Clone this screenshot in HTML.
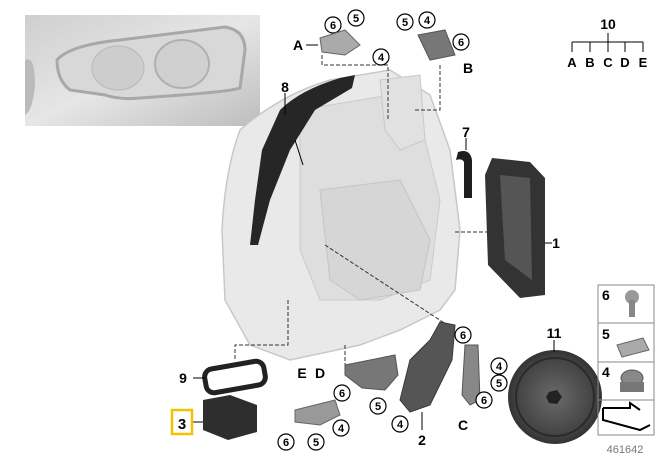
<!DOCTYPE html>
<html><head><meta charset="utf-8"><style>
html,body{margin:0;padding:0;background:#fff;}
svg{display:block;font-family:"Liberation Sans",Arial,sans-serif;font-weight:bold;}
</style></head><body>
<svg width="657" height="459" viewBox="0 0 657 459" xmlns="http://www.w3.org/2000/svg">
<defs>
<linearGradient id="ph" x1="0" y1="0" x2="1" y2="1">
<stop offset="0" stop-color="#cfcfcf"/><stop offset="0.5" stop-color="#e6e6e6"/><stop offset="1" stop-color="#bdbdbd"/></linearGradient>
<radialGradient id="wh" cx="0.5" cy="0.5" r="0.5"><stop offset="0" stop-color="#6a6a6a"/><stop offset="0.8" stop-color="#444"/><stop offset="1" stop-color="#333"/></radialGradient>
</defs>
<rect x="25" y="15" width="235" height="111" fill="url(#ph)"/>
<path d="M57 60 Q70 45 120 40 L225 27 Q245 30 245 50 L240 88 Q230 92 140 98 Q120 100 105 95 L70 90 Q57 80 57 60Z" fill="#d8d8d8" stroke="#a8a8a8" stroke-width="3"/>
<ellipse cx="118" cy="68" rx="26" ry="22" fill="#cdcdcd" stroke="#b9b9b9"/>
<ellipse cx="182" cy="64" rx="27" ry="24" fill="#d0d0d0" stroke="#b0b0b0" stroke-width="2"/>
<path d="M25 60 Q35 55 35 85 Q33 110 25 115Z" fill="#bbb"/>
<path d="M240 130 Q280 95 330 80 L390 70 L430 95 L450 150 L460 230 L455 290 L440 310 L400 330 L360 345 L290 360 L250 345 L225 300 L222 230 Q225 170 240 130Z" fill="#e9e9e9" stroke="#c8c8c8" stroke-width="1.5"/>
<path d="M300 110 L390 95 L420 120 L440 200 L430 280 L380 300 L320 300 L300 250Z" fill="#dedede" stroke="#cacaca"/>
<path d="M320 190 L400 180 L430 240 L420 290 L360 300 L330 280Z" fill="#d6d6d6" stroke="#c4c4c4"/>
<path d="M380 80 L420 75 L425 140 L400 150 L385 130Z" fill="#e1e1e1" stroke="#c8c8c8"/>
<path d="M340 78 L355 75 L352 88 L315 110 L290 150 L270 200 L258 245 L250 245 L255 200 L262 150 L280 110 Q300 90 340 78Z" fill="#262626"/>
<line x1="285" y1="93" x2="285" y2="115" stroke="#000"/>
<line x1="295" y1="140" x2="303" y2="165" stroke="#000"/>
<g stroke="#333" stroke-width="1" stroke-dasharray="4,2" fill="none">
<path d="M322 55 L322 65 L388 65 L388 120"/>
<path d="M440 65 L440 110 L415 110"/>
<path d="M325 245 L455 330"/>
<path d="M455 232 L490 232"/>
<path d="M288 300 L288 345 L235 345 L235 360"/>
<path d="M345 345 L345 375"/>
<path d="M470 345 L470 355"/>
</g>
<path d="M458 152 Q470 148 472 160 L472 198 L464 198 L464 162 Q462 158 456 160Z" fill="#1e1e1e"/>
<line x1="466" y1="138" x2="466" y2="150" stroke="#000"/>
<path d="M492 158 L530 162 L545 178 L545 295 L520 298 L488 265 L485 175Z" fill="#333"/>
<path d="M500 175 L530 178 L532 280 L505 260Z" fill="#555"/>
<line x1="545" y1="243" x2="552" y2="243" stroke="#000"/>
<circle cx="555" cy="397" r="47" fill="url(#wh)"/>
<circle cx="555" cy="397" r="39" fill="none" stroke="#2a2a2a" stroke-width="2"/>
<polygon points="549,392 557,390 562,397 557,404 549,403 546,397" fill="#222"/>
<line x1="554" y1="340" x2="554" y2="352" stroke="#000"/>
<path d="M440 322 L455 325 L452 360 L430 405 L410 412 L400 400 L410 360 L430 340Z" fill="#555" stroke="#3a3a3a"/>
<line x1="422" y1="412" x2="422" y2="430" stroke="#000"/>
<path d="M465 345 L478 345 L480 400 L470 405 L462 395Z" fill="#888" stroke="#555"/>
<path d="M345 365 L395 355 L398 375 L385 390 L362 388 L345 375Z" fill="#777" stroke="#555"/>
<path d="M295 410 L335 400 L340 415 L320 425 L295 422Z" fill="#999" stroke="#666"/>
<rect x="205" y="365" width="60" height="24" rx="8" transform="rotate(-10 235 377)" fill="none" stroke="#222" stroke-width="5"/>
<line x1="193" y1="378" x2="205" y2="378" stroke="#000"/>
<path d="M203 400 L230 395 L257 405 L257 432 L228 440 L203 430Z" fill="#2e2e2e"/>
<line x1="193" y1="422" x2="203" y2="422" stroke="#000"/>
<rect x="172" y="410" width="20" height="24" fill="#fff" stroke="#f2c200" stroke-width="2.5"/>
<text x="182" y="429" font-size="15" text-anchor="middle">3</text>
<g font-size="14" text-anchor="middle" fill="#000">
<text x="285" y="92">8</text><text x="466" y="137">7</text><text x="556" y="248">1</text>
<text x="554" y="338">11</text><text x="422" y="445">2</text><text x="183" y="383">9</text>
<text x="298" y="50">A</text><text x="468" y="73">B</text><text x="463" y="430">C</text>
<text x="320" y="378">D</text><text x="302" y="378">E</text>
<text x="608" y="29">10</text>
<text x="572" y="67" font-size="13">A</text><text x="590" y="67" font-size="13">B</text><text x="608" y="67" font-size="13">C</text><text x="625" y="67" font-size="13">D</text><text x="643" y="67" font-size="13">E</text>
</g>
<g stroke="#000" fill="none"><path d="M608 33 L608 42 M572 42 L643 42 M572 42 L572 52 M590 42 L590 52 M608 42 L608 52 M625 42 L625 52 M643 42 L643 52"/>
<path d="M306 45 L318 45"/></g>
<g font-size="11" text-anchor="middle">
<g fill="#fff" stroke="#000" stroke-width="1.2">
<circle cx="333" cy="25" r="8"/><circle cx="356" cy="18" r="8"/><circle cx="381" cy="57" r="8"/>
<circle cx="405" cy="22" r="8"/><circle cx="427" cy="20" r="8"/><circle cx="461" cy="42" r="8"/>
<circle cx="463" cy="335" r="8"/><circle cx="499" cy="366" r="8"/><circle cx="499" cy="383" r="8"/><circle cx="484" cy="400" r="8"/>
<circle cx="342" cy="393" r="8"/><circle cx="378" cy="406" r="8"/><circle cx="400" cy="424" r="8"/>
<circle cx="286" cy="442" r="8"/><circle cx="316" cy="442" r="8"/><circle cx="341" cy="428" r="8"/>
</g>
<text x="333" y="29">6</text><text x="356" y="22">5</text><text x="381" y="61">4</text>
<text x="405" y="26">5</text><text x="427" y="24">4</text><text x="461" y="46">6</text>
<text x="463" y="339">6</text><text x="499" y="370">4</text><text x="499" y="387">5</text><text x="484" y="404">6</text>
<text x="342" y="397">6</text><text x="378" y="410">5</text><text x="400" y="428">4</text>
<text x="286" y="446">6</text><text x="316" y="446">5</text><text x="341" y="432">4</text>
</g>
<path d="M320 38 L345 30 L360 45 L345 55 L322 52Z" fill="#aaa" stroke="#666"/>
<path d="M418 35 L445 30 L455 55 L430 60Z" fill="#777" stroke="#555"/>
<g fill="none" stroke="#888"><rect x="598" y="285" width="56" height="150"/>
<line x1="598" y1="323" x2="654" y2="323"/><line x1="598" y1="362" x2="654" y2="362"/><line x1="598" y1="400" x2="654" y2="400"/></g>
<g font-size="14"><text x="602" y="300">6</text><text x="602" y="339">5</text><text x="602" y="377">4</text></g>
<circle cx="632" cy="297" r="7" fill="#999"/><rect x="629" y="300" width="6" height="17" fill="#888"/>
<path d="M617 345 L643 338 L649 350 L622 357Z" fill="#aaa" stroke="#666"/>
<ellipse cx="632" cy="378" rx="11" ry="8" fill="#888" stroke="#555"/><rect x="620" y="382" width="24" height="10" fill="#777"/>
<path d="M603 408 L630 408 L630 403 L640 410 M603 408 L603 420 L640 430 L650 425" fill="none" stroke="#000" stroke-width="2"/>
<text x="625" y="453" font-size="11" font-weight="normal" fill="#777" text-anchor="middle">461642</text>
</svg>
</body></html>
